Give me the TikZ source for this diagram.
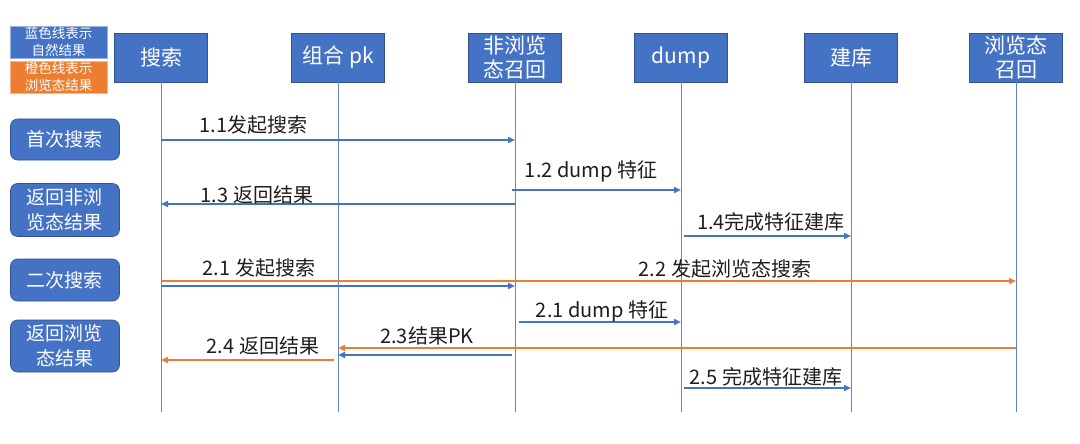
\documentclass[tikz,border=0pt]{standalone}
\usepackage{fontspec}
\setmainfont{Noto Sans CJK SC}
\usetikzlibrary{arrows.meta}
\definecolor{obl}{HTML}{4472C4}
\definecolor{obd}{HTML}{2F528F}
\definecolor{oor}{HTML}{ED7D31}
\definecolor{txt}{HTML}{1E1E1E}
\begin{document}
\begin{tikzpicture}[x=1pt,y=-1pt,
  hdr/.style={draw=obd, fill=obl, text=white, minimum width=93pt, minimum height=49pt,
    inner sep=0pt, align=center, line width=0.6pt, font=\fontsize{21}{24}\selectfont},
  lft/.style={draw=obd, fill=obl, text=white, rounded corners=7pt, minimum width=109pt,
    inner sep=0pt, align=center, line width=0.6pt, font=\fontsize{19}{25}\selectfont},
  leg/.style={minimum width=97pt, minimum height=32pt, inner sep=0pt, align=center,
    text=white, line width=0.8pt, font=\fontsize{13.5}{17}\selectfont},
  life/.style={draw=obl!85, line width=1pt},
  msgb/.style={draw=obl, line width=2pt, -{Triangle[length=7pt,width=6pt]}},
  msgo/.style={draw=oor, line width=2pt, -{Triangle[length=7pt,width=6pt]}},
  lbl/.style={inner sep=0pt, text=txt, font=\fontsize{20}{22}\selectfont}]
\useasboundingbox[fill=white] (0,0) rectangle (1080,444);

% legend
\node[leg, fill=obl, draw=obl!55] (legb) at (58.5,42) {蓝色线表示\\自然结果};
\node[leg, fill=oor, draw=oor!55] (lego) at (58.5,77) {橙色线表示\\浏览态结果};

% header boxes
\node[hdr] (search) at (161,57.5) {搜索};
\node[hdr] (pk) at (338,57.5) {组合 pk};
\node[hdr] (recall) at (515,57.5) {非浏览\\态召回};
\node[hdr] (dump) at (681,57.5) {dump};
\node[hdr] (build) at (851,57.5) {建库};
\node[hdr] (brecall) at (1016,57.5) {浏览态\\召回};

% lifelines
\foreach \n in {search,pk,recall,dump,build,brecall}
  \draw[life] (\n) -- (\n |- 0,412);

% left phase boxes
\node[lft, minimum height=41pt] (p1) at (65,139.5) {首次搜索};
\node[lft, minimum height=53pt] (p2) at (65,210) {返回非浏\\览态结果};
\node[lft, minimum height=42pt] (p3) at (65,280) {二次搜索};
\node[lft, minimum height=52pt] (p4) at (65,346) {返回浏览\\态结果};

% messages
\draw[msgb] (search |- 0,140) -- (recall |- 0,140);
\draw[msgb] ([xshift=-3pt]recall |- 0,190) -- (dump |- 0,190);
\draw[msgb] (recall |- 0,204) -- (search |- 0,204);
\draw[msgb] ([xshift=3pt]dump |- 0,236) -- (build |- 0,236);
\draw[msgo] (search |- 0,281) -- (brecall |- 0,281);
\draw[msgb] (search |- 0,286) -- (recall |- 0,286);
\draw[msgb] ([xshift=4pt]recall |- 0,322) -- (dump |- 0,322);
\draw[msgo] (brecall |- 0,348) -- (pk |- 0,348);
\draw[msgb] ([xshift=-3pt]recall |- 0,355) -- (pk |- 0,355);
\draw[msgo] ([xshift=-4pt]pk |- 0,360) -- (search |- 0,360);
\draw[msgb] ([xshift=3pt]dump |- 0,388) -- (build |- 0,388);

% labels
\node[lbl] (l11) at (253.5,125) {1.1发起搜索};
\node[lbl] (l12) at (591,171) {1.2 dump 特征};
\node[lbl] (l13) at (257,195) {1.3 返回结果};
\node[lbl] (l14) at (771,222) {1.4完成特征建库};
\node[lbl] (l21) at (259,268) {2.1 发起搜索};
\node[lbl] (l22) at (725,269) {2.2 发起浏览态搜索};
\node[lbl] (l21d) at (602,311) {2.1 dump 特征};
\node[lbl] (l23) at (427,336) {2.3结果PK};
\node[lbl] (l24) at (263,346) {2.4 返回结果};
\node[lbl] (l25) at (766,377) {2.5 完成特征建库};
\end{tikzpicture}
\end{document}
